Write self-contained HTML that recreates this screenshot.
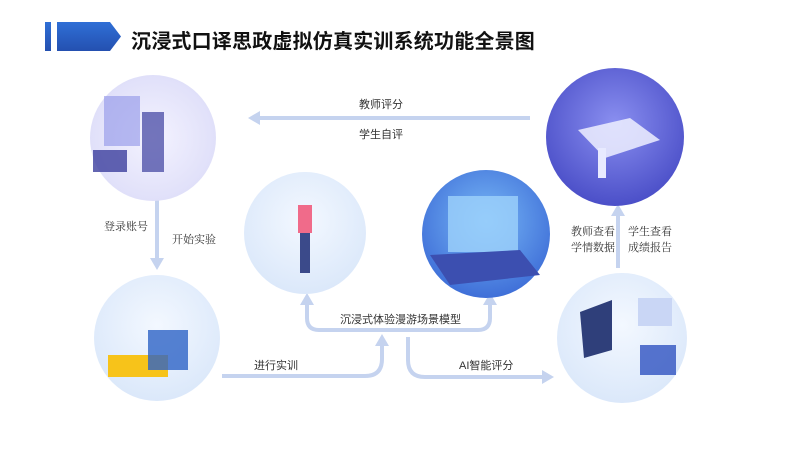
<!DOCTYPE html>
<html><head><meta charset="utf-8"><style>
html,body{margin:0;padding:0;background:#fff;}
body{width:800px;height:450px;position:relative;overflow:hidden;font-family:"Liberation Sans","Noto Sans CJK SC",sans-serif;}
.t{position:absolute;font-size:11px;color:#333;white-space:nowrap;}
.s{font-family:"Liberation Serif","Noto Serif CJK SC",serif;}
</style></head><body>
<svg width="800" height="450" style="position:absolute;left:0;top:0">
<defs>
<linearGradient id="tb" x1="0" y1="0" x2="0" y2="1"><stop offset="0" stop-color="#2f6fd6"/><stop offset="1" stop-color="#2450b0"/></linearGradient>
<radialGradient id="lt" cx="0.5" cy="0.5" r="0.6"><stop offset="0" stop-color="#f4f3ff"/><stop offset="1" stop-color="#dcdcf8"/></radialGradient>
<radialGradient id="lb" cx="0.5" cy="0.4" r="0.6"><stop offset="0" stop-color="#f3f8ff"/><stop offset="1" stop-color="#dbe8fa"/></radialGradient>
<radialGradient id="dp" cx="0.5" cy="0.4" r="0.6"><stop offset="0" stop-color="#8a8ff0"/><stop offset="1" stop-color="#4b4fc8"/></radialGradient>
<radialGradient id="bl" cx="0.5" cy="0.4" r="0.6"><stop offset="0" stop-color="#78b8f6"/><stop offset="1" stop-color="#3f6fd8"/></radialGradient>
</defs>
<rect x="45" y="22" width="6" height="29" fill="url(#tb)"/>
<polygon points="57,22 110,22 121,36.5 110,51 57,51" fill="url(#tb)"/>
<g fill="none" stroke="#c5d3ef" stroke-width="4">
<line x1="530" y1="118" x2="258" y2="118"/>
<line x1="157" y1="200" x2="157" y2="260"/>
<line x1="618" y1="268" x2="618" y2="214"/>
<path d="M222,376 H365 Q382,376 382,359 V343"/>
<path d="M307,302 V318 Q307,330 319,330 H478 Q490,330 490,318 V302"/>
<path d="M408,337 V360 Q408,377 425,377 H544"/>
</g>
<g fill="#c5d3ef">
<polygon points="248,118 260,111 260,125"/>
<polygon points="157,270 150,258 164,258"/>
<polygon points="618,204 611,216 625,216"/>
<polygon points="382,334 375,346 389,346"/>
<polygon points="307,293 300,305 314,305"/>
<polygon points="490,293 483,305 497,305"/>
<polygon points="554,377 542,370 542,384"/>
</g>
<circle cx="153" cy="138" r="63" fill="url(#lt)"/>
<circle cx="615" cy="137" r="69" fill="url(#dp)"/>
<circle cx="305" cy="233" r="61" fill="url(#lb)"/>
<circle cx="486" cy="234" r="64" fill="url(#bl)"/>
<circle cx="157" cy="338" r="63" fill="url(#lb)"/>
<circle cx="622" cy="338" r="65" fill="url(#lb)"/>
<rect x="104" y="96" width="36" height="50" fill="#8d92e8" opacity="0.6"/>
<rect x="142" y="112" width="22" height="60" fill="#3c3f9e" opacity="0.7"/>
<rect x="93" y="150" width="34" height="22" fill="#3c3f9e" opacity="0.8"/>
<polygon points="578,130 630,118 660,140 605,158" fill="#eef0ff" opacity="0.85"/>
<rect x="598" y="148" width="8" height="30" fill="#e8eaff"/>
<rect x="448" y="196" width="70" height="56" fill="#9ed2fb" opacity="0.8"/>
<polygon points="430,255 520,250 540,275 450,285" fill="#3c4fb0"/>
<rect x="298" y="205" width="14" height="28" fill="#f06b8a"/>
<rect x="300" y="233" width="10" height="40" fill="#3b4a8a"/>
<rect x="108" y="355" width="60" height="22" fill="#f7c31a"/>
<rect x="148" y="330" width="40" height="40" fill="#2d63c6" opacity="0.8"/>
<polygon points="580,312 612,300 612,350 584,358" fill="#2f3f7a"/>
<rect x="640" y="345" width="36" height="30" fill="#2f53c0" opacity="0.8"/>
<rect x="638" y="298" width="34" height="28" fill="#c9d6f5"/>
</svg>
<div style="position:absolute;left:131px;top:25px;font-size:20px;font-weight:bold;color:#111;letter-spacing:0.2px;">沉浸式口译思政虚拟仿真实训系统功能全景图</div>
<div class="t" style="left:359px;top:96px;">教师评分</div>
<div class="t" style="left:359px;top:126px;">学生自评</div>
<div class="t s" style="left:104px;top:218px;">登录账号</div>
<div class="t s" style="left:172px;top:231px;">开始实验</div>
<div class="t s" style="left:571px;top:224px;line-height:16px;">教师查看<br>学情数据</div>
<div class="t s" style="left:628px;top:224px;line-height:16px;">学生查看<br>成绩报告</div>
<div class="t" style="left:340px;top:311px;">沉浸式体验漫游场景模型</div>
<div class="t" style="left:254px;top:357px;">进行实训</div>
<div class="t" style="left:459px;top:357px;">AI智能评分</div>
</body></html>
